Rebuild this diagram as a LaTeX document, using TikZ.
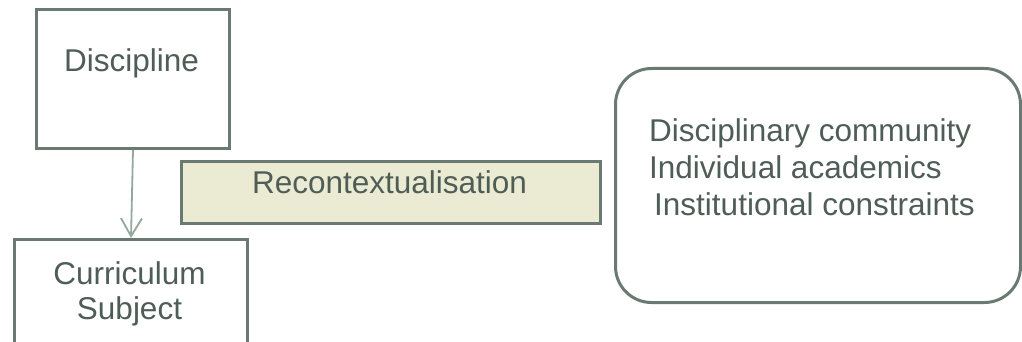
\documentclass[tikz,border=0pt]{standalone}
\usepackage{fontspec}
\setmainfont{Liberation Sans}
\usetikzlibrary{arrows.meta}
\definecolor{edgec}{HTML}{6A7A72}
\definecolor{txtc}{HTML}{4F5D57}
\definecolor{fillc}{HTML}{EBEBD4}
\definecolor{arrc}{HTML}{93A89E}
\tikzset{
  boxstyle/.style={draw=edgec, line width=3pt, inner sep=0pt, fill=white},
  lbl/.style={text=txtc, inner sep=0pt, font=\fontsize{31.5}{36}\selectfont},
  conn/.style={draw=arrc, line width=1.8pt, -{Straight Barb[length=18pt,width=21pt,line width=1.8pt]}}
}
\begin{document}
\begin{tikzpicture}[x=1pt,y=-1pt]
\useasboundingbox (0,0) rectangle (1022,342);
% boxes
\node[boxstyle, anchor=north west, minimum width=193pt, minimum height=139pt] (disc) at (35,8) {};
\node[boxstyle, anchor=north west, minimum width=233pt, minimum height=120pt] (curr) at (13,238) {};
\node[boxstyle, fill=fillc, anchor=north west, minimum width=419pt, minimum height=62pt] (recon) at (180,160) {};
\node[boxstyle, rounded corners=36pt, anchor=north west, minimum width=405pt, minimum height=234pt] (ctx) at (614,67) {};
% texts
\node[lbl, anchor=base] (disct) at (131.5,72) {Discipline};
\node[lbl, align=center, font=\fontsize{31.5}{35}\selectfont] (currt) at (129.5,294.3) {Curriculum\\Subject};
\node[lbl, anchor=base] (recont) at (389.5,193.3) {Recontextualisation};
\node[lbl, anchor=north west, align=left, font=\fontsize{31.5}{37}\selectfont] (ctxt) at (649,118.8) {Disciplinary community\\Individual academics\\\hspace*{5pt}Institutional constraints};
% connector
\draw[conn] (disc.south) -- (curr.north);
\end{tikzpicture}
\end{document}
